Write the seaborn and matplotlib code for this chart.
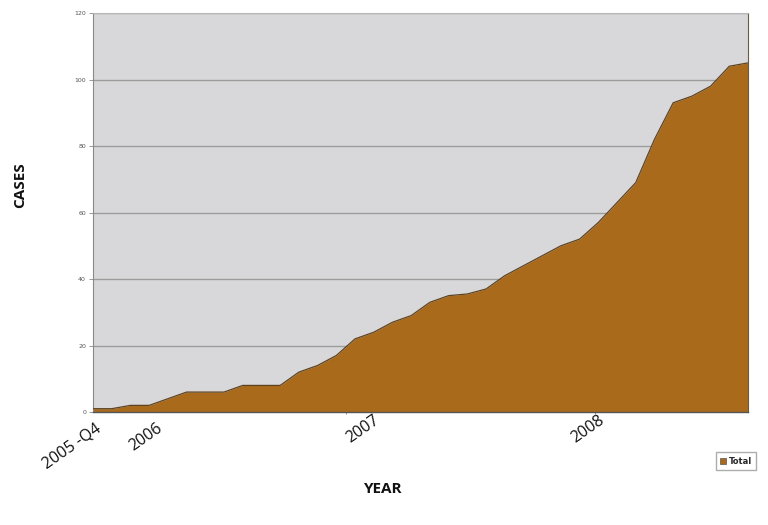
import matplotlib
matplotlib.use("Agg")
import matplotlib.pyplot as plt
import matplotlib.transforms as mtransforms
from matplotlib.patches import Patch
import seaborn as sns

# monthly totals, Oct 2005 .. Sep 2008
cases = [1, 1, 2, 2, 4, 6, 6, 6, 8, 8, 8, 12, 14, 17, 22, 24, 27, 29,
         33, 35, 35.5, 37, 41, 44, 47, 50, 52, 57, 63, 69, 82, 93, 95, 98,
         104, 105]
month_idx = list(range(len(cases)))

# category axis labels (position in months, text)
tick_labels = ["2005 -Q4", "2006", "2007", "2008"]
tick_pos = [0.1, 3.4, 14.95, 27.0]
tick_drop = [0.02, 0.02, 0.0, 0.0]
year_marks = [13.5, 26.8]

y_ticks = [0, 20, 40, 60, 80, 100, 120]

FILL = "#A96A1B"
EDGE = "#5E4322"

sns.set_theme(style="white")
plt.rcParams["font.family"] = ["Open Sans", "DejaVu Sans"]

fig = plt.figure(figsize=(7.68, 5.25), dpi=100)
ax = fig.add_axes([0.1211, 0.2152, 0.8529, 0.76])
ax.set_facecolor("#D8D8DA")

ax.fill_between(month_idx, cases, 0, color=FILL, lw=0, zorder=2)
sns.lineplot(x=month_idx, y=cases, color=EDGE, lw=0.9, ax=ax, zorder=3)

ax.set_xlim(0, len(cases) - 1)
ax.set_ylim(0, 120)
ax.set_yticks(y_ticks)
ax.set_yticklabels([str(v) for v in y_ticks], fontsize=4.5, color="#555555",
                   family="DejaVu Sans")
ax.yaxis.grid(True, color="#9C9C9C", lw=1.0, zorder=1)
ax.set_axisbelow(True)
ax.tick_params(axis="y", length=3, width=0.6, color="#888888", pad=2, left=True)

ax.set_xticks(year_marks)
ax.set_xticklabels([])
ax.tick_params(axis="x", length=3, width=0.6, color="#777777", bottom=True,
               direction="inout")

trans = mtransforms.blended_transform_factory(ax.transData, ax.transAxes)
for lab, pos, drop in zip(tick_labels, tick_pos, tick_drop):
    ax.text(pos, -drop, lab, transform=trans, rotation=35,
            ha="right", va="top", rotation_mode="anchor", fontsize=11.5,
            color="#111111")

ax.spines["top"].set_color("#B8B8B8")
ax.spines["top"].set_linewidth(0.8)
ax.spines["right"].set_color("#6E5A40")
ax.spines["right"].set_linewidth(0.8)
ax.spines["left"].set_color("#8A8A8A")
ax.spines["left"].set_linewidth(0.8)
ax.spines["bottom"].set_color("#555555")
ax.spines["bottom"].set_linewidth(1.0)

ax.set_xlabel("")
ax.set_ylabel("")
fig.text(383 / 768, 1 - 489 / 525, "YEAR", ha="center", va="center",
         fontsize=11, fontweight="bold", color="#111111")
fig.text(20 / 768, 1 - 185 / 525, "CASES", ha="center", va="center",
         rotation=90, fontsize=11, fontweight="bold", color="#111111")

handle = Patch(facecolor=FILL, edgecolor="#555555", lw=0.5)
fig.legend([handle], ["Total"], loc="center",
           bbox_to_anchor=(736 / 768, 1 - 461 / 525),
           frameon=True, fancybox=False, edgecolor="#999999",
           handlelength=0.7, handleheight=0.7, handletextpad=0.4,
           borderpad=0.5, borderaxespad=0.0,
           prop={"family": "DejaVu Sans", "size": 6, "weight": "bold"})

fig.savefig("out.png", dpi=100, facecolor="white")
